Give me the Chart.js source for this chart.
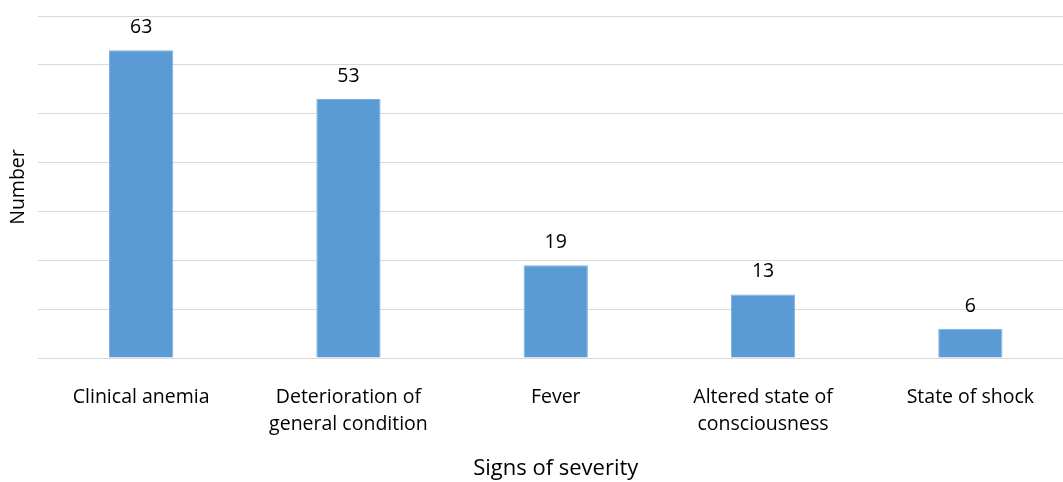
<!DOCTYPE html>
<html>
<head>
<meta charset="utf-8">
<script src="https://cdn.jsdelivr.net/npm/chart.js@4/dist/chart.umd.min.js"></script>
<style>
html,body{margin:0;padding:0;background:#fff;overflow:hidden;width:1063px;height:482px;}
#wrap{width:1074px;height:482px;position:relative;}
</style>
</head>
<body>
<div id="wrap"><canvas id="c"></canvas></div>
<script>
const categories = [
  "Clinical anemia",
  ["Deterioration of", "general condition"],
  "Fever",
  ["Altered state of", "consciousness"],
  "State of shock"
];
const values = [63, 53, 19, 13, 6];
const yTitle = "Number";
const xTitle = "Signs of severity";

const FONT = "'Open Sans', sans-serif";

const dataLabels = {
  id: 'dataLabels',
  afterDatasetsDraw(chart) {
    const ctx = chart.ctx;
    const meta = chart.getDatasetMeta(0);
    ctx.save();
    ctx.font = "19.5px " + FONT;
    ctx.fillStyle = "#000";
    ctx.textAlign = "center";
    ctx.textBaseline = "alphabetic";
    meta.data.forEach((bar, i) => {
      ctx.fillText(String(chart.data.datasets[0].data[i]), bar.x, bar.y - 17);
    });
    ctx.restore();
  }
};

new Chart(document.getElementById('c'), {
  type: 'bar',
  data: {
    labels: categories,
    datasets: [{
      data: values,
      backgroundColor: '#5B9BD5',
      borderColor: '#7FB0DF',
      borderWidth: 1,
      barPercentage: 1,
      categoryPercentage: 0.31
    }]
  },
  options: {
    responsive: true,
    maintainAspectRatio: false,
    animation: false,
    layout: { padding: { top: 16, right: 0, left: 0, bottom: 0 } },
    plugins: { legend: { display: false }, tooltip: { enabled: false } },
    scales: {
      x: {
        grid: { display: false, drawTicks: false },
        border: { display: false },
        ticks: {
          color: '#000',
          font: { family: FONT, size: 19.5, lineHeight: '27px' },
          padding: 26,
          maxRotation: 0,
          autoSkip: false
        },
        title: {
          display: true, text: xTitle, color: '#000',
          font: { family: FONT, size: 22 },
          padding: { top: 0, bottom: 0 }
        },
        afterFit(axis) { axis.height = 124; }
      },
      y: {
        min: 0, max: 70,
        ticks: { display: false, stepSize: 10 },
        grid: { color: '#D9D9D9', lineWidth: 1, drawTicks: false },
        border: { display: false },
        title: {
          display: true, text: yTitle, color: '#000',
          font: { family: FONT, size: 19.5 },
          padding: { top: 7, bottom: 0 }
        },
        afterFit(axis) { axis.width = 37.5; }
      }
    }
  },
  plugins: [dataLabels]
});
</script>
</body>
</html>
